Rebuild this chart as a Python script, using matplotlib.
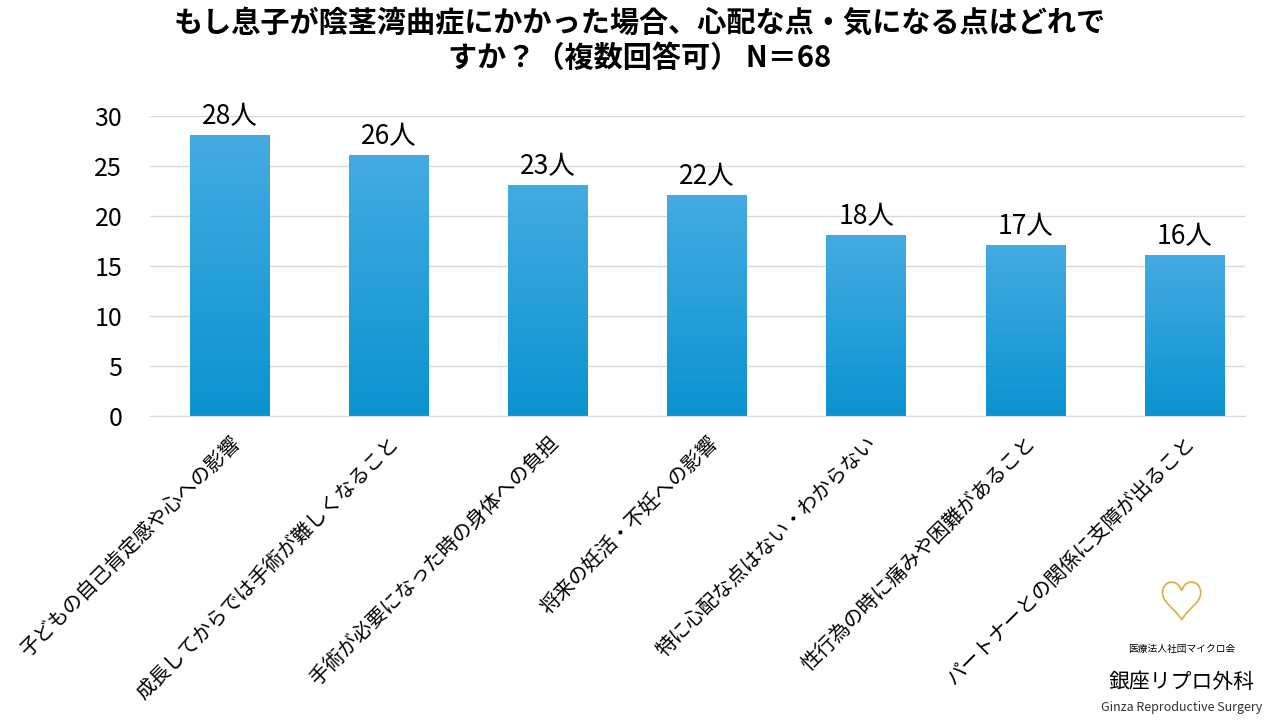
import numpy as np
import matplotlib
matplotlib.use("Agg")
import matplotlib.pyplot as plt
from matplotlib.colors import LinearSegmentedColormap

plt.rcParams['font.family'] = ['Noto Sans CJK JP', 'DejaVu Sans']

categories = ["子どもの自己肯定感や心への影響", "成長してからでは手術が難しくなること",
              "手術が必要になった時の身体への負担", "将来の妊活・不妊への影響",
              "特に心配な点はない・わからない", "性行為の時に痛みや困難があること",
              "パートナーとの関係に支障が出ること"]
values = [28, 26, 23, 22, 18, 17, 16]
title = "もし息子が陰茎湾曲症にかかった場合、心配な点・気になる点はどれで\nすか？（複数回答可） N＝68"

fig = plt.figure(figsize=(12.8, 7.2), dpi=100)
ax = fig.add_axes([150/1280, 1-416/720, 1095/1280, 300/720])

cmap = LinearSegmentedColormap.from_list("blu", ["#0a93d0", "#44abe2"])
grad = np.linspace(0, 1, 256).reshape(-1, 1)
w = 0.5
for i, v in enumerate(values):
    ax.imshow(grad, extent=(i - w/2, i + w/2, 0, v), origin='lower', cmap=cmap,
              aspect='auto', zorder=2)
    ax.text(i, v + 0.6, f"{v}人", ha='center', va='bottom', fontsize=19)

ax.set_xlim(-0.5, 6.38)
ax.set_ylim(0, 30)
ax.set_yticks(range(0, 31, 5))
ax.tick_params(axis='y', labelsize=18, length=0, pad=20)
ax.yaxis.grid(True, color='#d9d9d9', linewidth=1, zorder=0)
ax.set_axisbelow(True)
for s in ['top', 'right', 'left']:
    ax.spines[s].set_visible(False)
ax.spines['bottom'].set_color('#d9d9d9')
ax.set_xticks(range(len(categories)))
ax.set_xticklabels(categories, rotation=45, ha='right', rotation_mode='anchor', fontsize=14.5)
ax.tick_params(axis='x', length=0, pad=12)

fig.text(0.5, 0.99, title, ha='center', va='top', fontsize=21, fontweight='bold', linespacing=1.25)

# logo
fig.text(0.923, 0.095, "医療法人社団マイクロ会", ha='center', fontsize=7)
fig.text(0.923, 0.045, "銀座リプロ外科", ha='center', fontsize=15)
fig.text(0.923, 0.012, "Ginza Reproductive Surgery", ha='center', fontsize=9, color='#333333')
fig.text(0.923, 0.14, "♡", ha='center', fontsize=34, color='#d9b24a')

fig.savefig("out.png", dpi=100)
